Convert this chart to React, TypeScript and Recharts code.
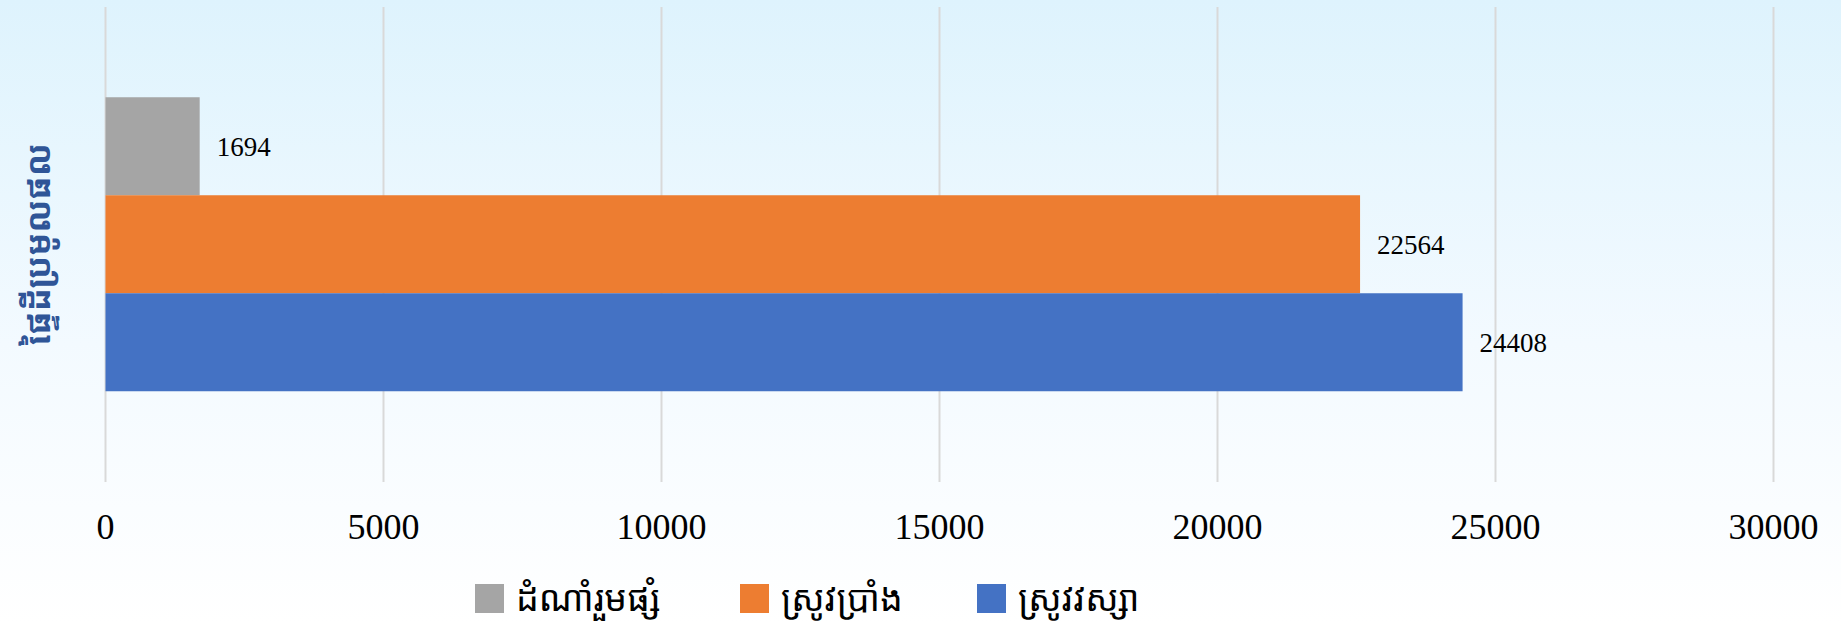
import React from 'react'
import { BarChart, Bar, XAxis, YAxis, CartesianGrid, Legend, LabelList } from 'recharts'

const categories = ['ផ្ទៃដីប្រមូលផល']
const seriesNames = ['ដំណាំរួមផ្សំ', 'ស្រូវប្រាំង', 'ស្រូវវស្សា']
const seriesKeys = ['mixed', 'dry', 'wet']
const seriesColors = ['#a5a5a5', '#ed7d31', '#4472c4']
const mixedValues = [1694]
const dryValues = [22564]
const wetValues = [24408]
const xTicks = [0, 5000, 10000, 15000, 20000, 25000, 30000]

const data = categories.map((name, i) => ({
  name,
  mixed: mixedValues[i],
  dry: dryValues[i],
  wet: wetValues[i],
}))

const legendWidths = [265, 237, 220]
const khmerFont = '"Khmer OS", "Noto Sans Khmer", "Liberation Serif", serif'

function KhmerLegend() {
  return (
    <div style={{ display: 'flex', height: 44, alignItems: 'center', paddingLeft: 475 }}>
      {seriesNames.map((n, i) => (
        <div key={n} style={{ display: 'flex', alignItems: 'center', width: legendWidths[i] }}>
          <span style={{ width: 29, height: 29, background: seriesColors[i], display: 'inline-block', marginRight: 12 }} />
          <span style={{ fontSize: 36, color: '#000', fontFamily: khmerFont, lineHeight: '44px' }}>{n}</span>
        </div>
      ))}
    </div>
  )
}

function YLabel(props: any) {
  const vb = props.viewBox || { y: 0, height: 0 }
  const cy = vb.y + vb.height / 2
  return (
    <text
      x={37}
      y={cy}
      transform={`rotate(-90, 37, ${cy})`}
      textAnchor="middle"
      dominantBaseline="central"
      fill="#2f5597"
      fontWeight="bold"
      fontSize={34}
      fontFamily={khmerFont}
    >
      {categories[0]}
    </text>
  )
}

export default function App() {
  return (
    <div
      style={{
        position: 'absolute',
        left: 0,
        top: 0,
        width: 1841,
        height: 624,
        background: 'linear-gradient(to bottom, #def3fd 0%, #f3faff 55%, #ffffff 100%)',
      }}
    >
      <BarChart
        layout="vertical"
        width={1841}
        height={624}
        data={data}
        margin={{ top: 7, right: 67.5, left: 0, bottom: 4 }}
        barCategoryGap="19%"
        barGap={0}
      >
        <CartesianGrid horizontal={false} stroke="#d9d9d9" strokeWidth={2} />
        <XAxis
          type="number"
          domain={[0, 30000]}
          ticks={xTicks}
          axisLine={false}
          tickLine={false}
          tickSize={0}
          tickMargin={31}
          height={94}
          interval={0}
          tick={{ fontSize: 36, fill: '#000', fontFamily: '"Liberation Serif", serif' }}
        />
        <YAxis
          type="category"
          dataKey="name"
          width={105.5}
          tick={false}
          axisLine={false}
          tickLine={false}
          label={<YLabel />}
        />
        <Legend verticalAlign="bottom" content={<KhmerLegend />} />
        {seriesKeys.map((k, i) => (
          <Bar key={k} dataKey={k} name={seriesNames[i]} fill={seriesColors[i]} isAnimationActive={false}>
            <LabelList
              dataKey={k}
              position="right"
              offset={17}
              fill="#000"
              fontSize={27}
              fontFamily='"Liberation Serif", serif'
            />
          </Bar>
        ))}
      </BarChart>
    </div>
  )
}
